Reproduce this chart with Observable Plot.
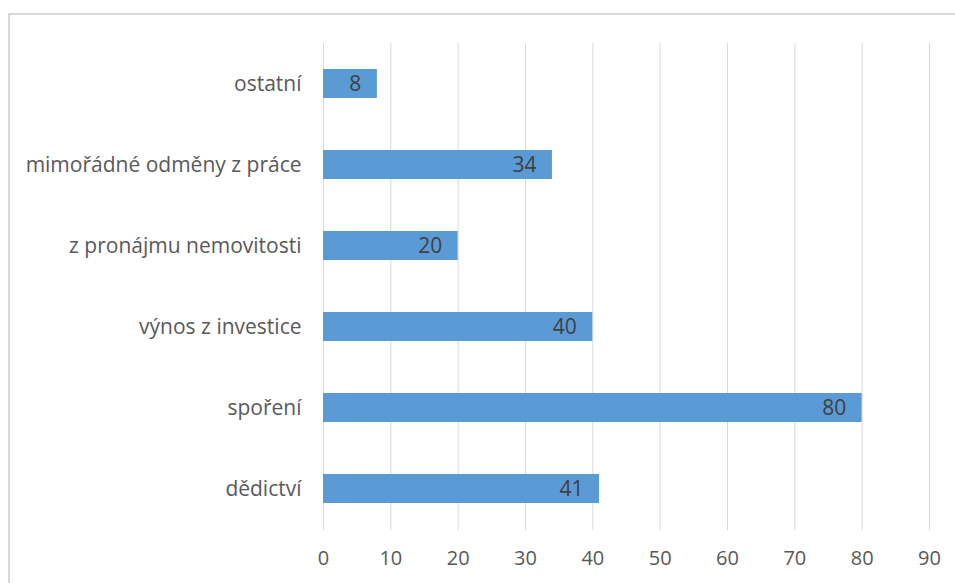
<!DOCTYPE html>
<html>
<head>
<meta charset="utf-8">
<script src="https://cdn.jsdelivr.net/npm/d3@7"></script>
<script src="https://cdn.jsdelivr.net/npm/@observablehq/plot@0.6"></script>
<style>
  html, body { margin: 0; padding: 0; background: #fff; }
  #wrap { position: relative; width: 955px; height: 583px; overflow: hidden; }
  #frame { position: absolute; left: 8px; top: 13px; width: 1000px; height: 1000px; border: 2px solid #d9d9d9; box-sizing: border-box; pointer-events: none; }
</style>
</head>
<body>
<div id="wrap"><div id="frame"></div></div>
<script>
const categories = ["ostatní", "mimořádné odměny z práce", "z pronájmu nemovitosti", "výnos z investice", "spoření", "dědictví"];
const values = [8, 34, 20, 40, 80, 41];
const xTicks = [0, 10, 20, 30, 40, 50, 60, 70, 80, 90];

const data = categories.map((c, i) => ({category: c, value: values[i]}));

const chart = Plot.plot({
  width: 955,
  height: 583,
  marginLeft: 323,
  marginRight: 26,
  marginTop: 43,
  marginBottom: 53,
  style: {fontFamily: "'Open Sans', sans-serif", fontSize: "20px", color: "#595959", background: "transparent"},
  x: {domain: [0, 90], ticks: xTicks, label: null},
  y: {domain: categories, paddingInner: 0.64, paddingOuter: 0.32, label: null},
  marks: [
    Plot.gridX(xTicks, {stroke: "#d9d9d9", strokeOpacity: 1, strokeWidth: 1}),
    Plot.barX(data, {x: "value", y: "category", fill: "#5b9bd5"}),
    Plot.text(data, {x: "value", y: "category", text: d => String(d.value), textAnchor: "end", dx: -16, fill: "#404040", fontSize: 21}),
    Plot.axisX(xTicks, {tickSize: 0, tickPadding: 20, fontSize: 20, fill: "#595959", label: null}),
    Plot.axisY({tickSize: 0, tickPadding: 22, fontSize: 21, fill: "#595959", label: null})
  ]
});
document.getElementById("wrap").prepend(chart);
chart.style.position = "absolute";
chart.style.left = "0";
chart.style.top = "0";
</script>
</body>
</html>
